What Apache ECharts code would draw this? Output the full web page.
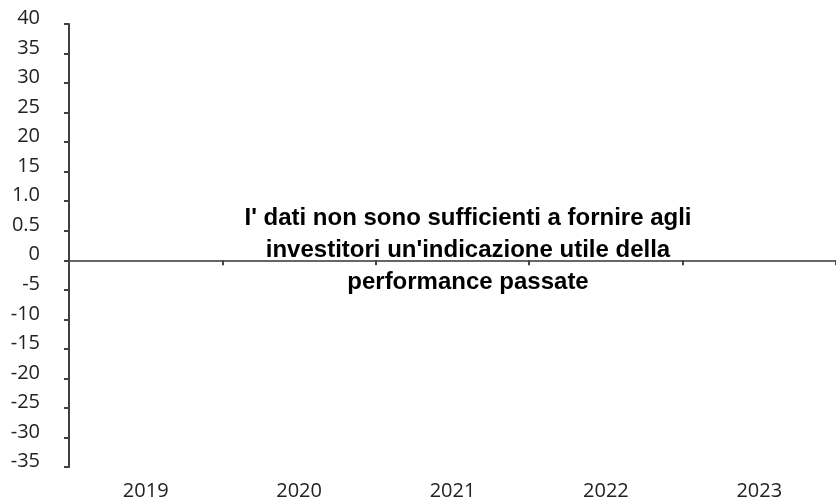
<!DOCTYPE html>
<html>
<head>
<meta charset="utf-8">
<script src="https://cdn.jsdelivr.net/npm/echarts@6/dist/echarts.min.js"></script>
<style>
  html, body { margin: 0; padding: 0; background: #fff; }
  #chart { width: 836px; height: 504px; }
</style>
</head>
<body>
<div id="chart"></div>
<script>
var years = ['2019', '2020', '2021', '2022', '2023'];
// no performance values available
var perf = [];
// tick labels as shown on the axis (value -> text)
var tickValues = [-35, -30, -25, -20, -15, -10, -5, 0, 5, 10, 15, 20, 25, 30, 35, 40];
var tickTexts = ['-35', '-30', '-25', '-20', '-15', '-10', '-5', '0', '0.5', '1.0', '15', '20', '25', '30', '35', '40'];
var notice = "I' dati non sono sufficienti a fornire agli\ninvestitori un'indicazione utile della\nperformance passate";

var myChart = echarts.init(document.getElementById('chart'));

var option = {
  animation: false,
  grid: { left: 69, right: -4, top: 24, bottom: 37 },
  xAxis: [{
    type: 'category',
    data: years,
    boundaryGap: true,
    axisLine: { onZero: true, lineStyle: { color: '#666', width: 2 } },
    axisTick: { show: true, length: 5, lineStyle: { color: '#444', width: 2 } },
    axisLabel: { show: false },
    splitLine: { show: false }
  }, {
    // bottom labels drawn by a second category axis sharing the grid
    type: 'category',
    data: years,
    position: 'bottom',
    axisLine: { show: false, onZero: false },
    axisTick: { show: false },
    axisLabel: { margin: 14, color: '#222', fontFamily: 'Open Sans', fontSize: 20 }
  }],
  yAxis: {
    type: 'value',
    min: -35,
    max: 40,
    interval: 5,
    axisLine: { show: true, lineStyle: { color: '#404040', width: 2 } },
    axisTick: { show: true, length: 5, lineStyle: { color: '#404040', width: 2 } },
    splitLine: { show: false },
    axisLabel: {
      margin: 29,
      color: '#222',
      fontFamily: 'Open Sans',
      fontSize: 20,
      verticalAlign: 'bottom',
      lineHeight: 11,
      formatter: function (v) {
        var i = tickValues.indexOf(v);
        return i >= 0 ? tickTexts[i] : '';
      }
    }
  },
  series: [{ type: 'bar', data: perf }],
  graphic: [
    {
      type: 'text',
      x: 468,
      y: 202,
      z: 100,
      style: {
        text: notice,
        fill: '#000',
        font: 'bold 24px "Liberation Sans", Arial, sans-serif',
        textAlign: 'center',
        lineHeight: 32
      }
    }
  ]
};

myChart.setOption(option);
</script>
</body>
</html>
